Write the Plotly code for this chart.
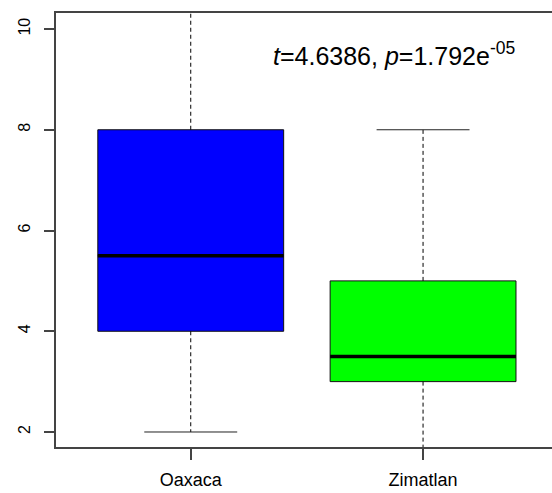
import plotly.graph_objects as go

# Summary statistics per site
groups = ["Oaxaca", "Zimatlan"]
q1 = [4.0, 3.0]
medians = [5.5, 3.5]
q3 = [8.0, 5.0]
whisker_low = [2.0, 1.0]
whisker_high = [11.0, 8.0]
box_colors = ["#0000FF", "#00FF00"]
y_ticks = [2, 4, 6, 8, 10]
stat_text = "<i>t</i>=4.6386, <i>p</i>=1.792e<sup>-05</sup>"

positions = list(range(1, len(groups) + 1))
half_box = 0.4
half_cap = 0.2

fig = go.Figure()

for i, pos in enumerate(positions):
    # whiskers (dashed) and caps (solid)
    for a, b in ((q3[i], whisker_high[i]), (q1[i], whisker_low[i])):
        fig.add_trace(go.Scatter(
            x=[pos, pos], y=[a, b], mode="lines",
            line=dict(color="black", width=1, dash="4px,3px"),
            hoverinfo="skip", showlegend=False))
    for v in (whisker_high[i], whisker_low[i]):
        fig.add_trace(go.Scatter(
            x=[pos - half_cap, pos + half_cap], y=[v, v], mode="lines",
            line=dict(color="#222222", width=1),
            hoverinfo="skip", showlegend=False))
    # box body
    fig.add_trace(go.Box(
        x=[pos], q1=[q1[i]], median=[medians[i]], q3=[q3[i]],
        lowerfence=[q1[i]], upperfence=[q3[i]],
        width=2 * half_box, whiskerwidth=0,
        fillcolor=box_colors[i], line=dict(color="#111111", width=1),
        boxpoints=False, hoverinfo="skip", showlegend=False))
    # thick median bar
    fig.add_trace(go.Scatter(
        x=[pos - half_box, pos + half_box], y=[medians[i], medians[i]],
        mode="lines", line=dict(color="black", width=3.5),
        hoverinfo="skip", showlegend=False))

fig.add_annotation(
    text=stat_text, xref="paper", yref="paper",
    x=0.4335, y=0.905, xanchor="left", yanchor="middle",
    showarrow=False, font=dict(family="Liberation Sans, Arial", size=25, color="black"))

fig.update_layout(
    width=552, height=493,
    margin=dict(l=56, r=0, t=13, b=46),
    plot_bgcolor="white", paper_bgcolor="white",
    font=dict(family="Liberation Sans, Arial", color="black"),
    xaxis=dict(
        range=[0.42, 2.555], tickvals=positions, ticktext=groups,
        showgrid=False, zeroline=False,
        showline=True, mirror=True, linecolor="#444444", linewidth=1.5,
        ticks="outside", ticklen=11, tickcolor="#444444", tickwidth=1.5,
        tickfont=dict(size=18), ticklabelstandoff=5),
    yaxis=dict(
        range=[1.702, 10.318], tickvals=y_ticks,
        showgrid=False, zeroline=False,
        showline=True, linecolor="#444444", linewidth=1.5,
        ticks="outside", ticklen=10, tickcolor="#444444", tickwidth=1.5,
        tickangle=-90, tickfont=dict(size=16), ticklabelstandoff=8),
)

fig.write_html("out.html")
